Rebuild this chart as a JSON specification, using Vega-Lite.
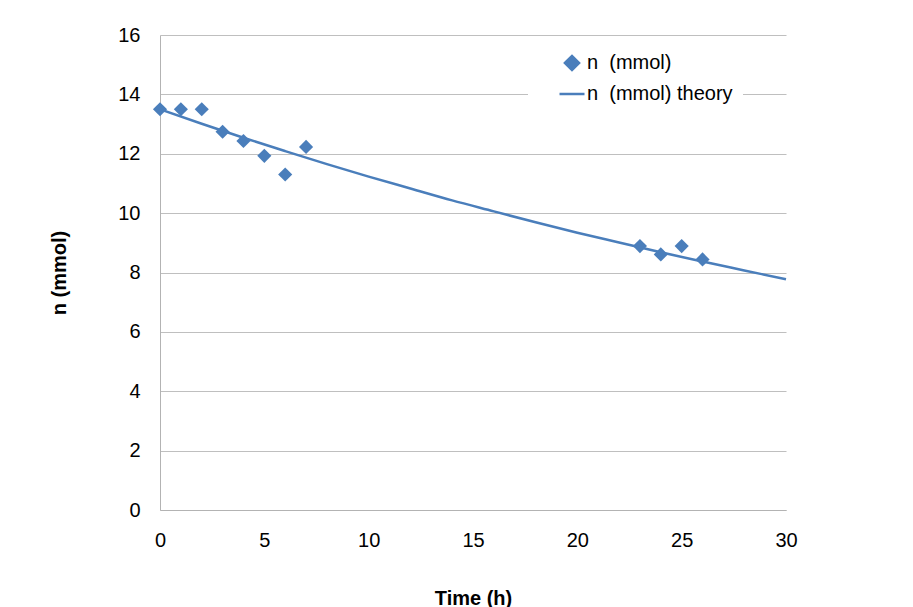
{
  "$schema": "https://vega.github.io/schema/vega-lite/v6.json",
  "width": 626,
  "height": 475,
  "autosize": "none",
  "padding": {"left": 160, "top": 35, "right": 127, "bottom": 97},
  "background": "white",
  "config": {
    "font": "Liberation Sans",
    "view": {"stroke": null},
    "axis": {
      "labelFont": "Liberation Sans",
      "labelFontSize": 20,
      "labelColor": "#000000",
      "titleFont": "Liberation Sans",
      "titleFontSize": 20,
      "titleFontWeight": "bold",
      "titleColor": "#000000",
      "ticks": false,
      "domainColor": "#b3b3b3",
      "gridColor": "#bfbfbf",
      "labelPadding": 20,
      "labelFlush": false
    }
  },
  "layer": [
    {
      "data": {"values": [
        {"t": 0, "n": 13.5, "series": "n\u00a0 (mmol) theory"},
        {"t": 2, "n": 13.01, "series": "n\u00a0 (mmol) theory"},
        {"t": 4, "n": 12.54, "series": "n\u00a0 (mmol) theory"},
        {"t": 6, "n": 12.09, "series": "n\u00a0 (mmol) theory"},
        {"t": 8, "n": 11.65, "series": "n\u00a0 (mmol) theory"},
        {"t": 10, "n": 11.23, "series": "n\u00a0 (mmol) theory"},
        {"t": 12, "n": 10.83, "series": "n\u00a0 (mmol) theory"},
        {"t": 14, "n": 10.43, "series": "n\u00a0 (mmol) theory"},
        {"t": 16, "n": 10.06, "series": "n\u00a0 (mmol) theory"},
        {"t": 18, "n": 9.69, "series": "n\u00a0 (mmol) theory"},
        {"t": 20, "n": 9.34, "series": "n\u00a0 (mmol) theory"},
        {"t": 22, "n": 9.01, "series": "n\u00a0 (mmol) theory"},
        {"t": 24, "n": 8.68, "series": "n\u00a0 (mmol) theory"},
        {"t": 26, "n": 8.37, "series": "n\u00a0 (mmol) theory"},
        {"t": 28, "n": 8.07, "series": "n\u00a0 (mmol) theory"},
        {"t": 30, "n": 7.77, "series": "n\u00a0 (mmol) theory"}
      ]},
      "mark": {"type": "line", "strokeWidth": 2.5, "interpolate": "monotone"},
      "encoding": {
        "x": {"field": "t", "type": "quantitative",
              "scale": {"domain": [0, 30], "nice": false},
              "axis": {"values": [0, 5, 10, 15, 20, 25, 30], "grid": false, "title": "Time (h)", "titlePadding": 38}},
        "y": {"field": "n", "type": "quantitative",
              "scale": {"domain": [0, 16], "nice": false},
              "axis": {"values": [0, 2, 4, 6, 8, 10, 12, 14, 16], "grid": true, "title": "n (mmol)", "titlePadding": 48}},
        "color": {"field": "series", "type": "nominal",
                  "scale": {"domain": ["n\u00a0 (mmol)", "n\u00a0 (mmol) theory"], "range": ["#4a7ebb", "#4a7ebb"]},
                  "legend": {"title": null, "orient": "none", "legendX": 368, "legendY": 8,
                             "fillColor": "white", "padding": 10, "symbolOffset": 20,
                             "labelFont": "Liberation Sans", "labelFontSize": 20, "labelColor": "#000000",
                             "labelOffset": 1, "rowPadding": 4,
                             "symbolStrokeColor": "#4a7ebb", "symbolStrokeWidth": 2.5}}
      }
    },
    {
      "data": {"values": [
        {"t": 0, "n": 13.5, "series": "n\u00a0 (mmol)"},
        {"t": 1, "n": 13.5, "series": "n\u00a0 (mmol)"},
        {"t": 2, "n": 13.5, "series": "n\u00a0 (mmol)"},
        {"t": 3, "n": 12.74, "series": "n\u00a0 (mmol)"},
        {"t": 4, "n": 12.43, "series": "n\u00a0 (mmol)"},
        {"t": 5, "n": 11.93, "series": "n\u00a0 (mmol)"},
        {"t": 6, "n": 11.3, "series": "n\u00a0 (mmol)"},
        {"t": 7, "n": 12.23, "series": "n\u00a0 (mmol)"},
        {"t": 23, "n": 8.89, "series": "n\u00a0 (mmol)"},
        {"t": 24, "n": 8.61, "series": "n\u00a0 (mmol)"},
        {"t": 25, "n": 8.89, "series": "n\u00a0 (mmol)"},
        {"t": 26, "n": 8.44, "series": "n\u00a0 (mmol)"}
      ]},
      "mark": {"type": "point", "filled": true, "opacity": 1},
      "encoding": {
        "x": {"field": "t", "type": "quantitative"},
        "y": {"field": "n", "type": "quantitative"},
        "color": {"field": "series", "type": "nominal"},
        "shape": {"field": "series", "type": "nominal",
                  "scale": {"domain": ["n\u00a0 (mmol)", "n\u00a0 (mmol) theory"], "range": ["diamond", "stroke"]}},
        "size": {"field": "series", "type": "nominal",
                 "scale": {"domain": ["n\u00a0 (mmol)", "n\u00a0 (mmol) theory"], "range": [200, 625]}}
      }
    }
  ]
}
